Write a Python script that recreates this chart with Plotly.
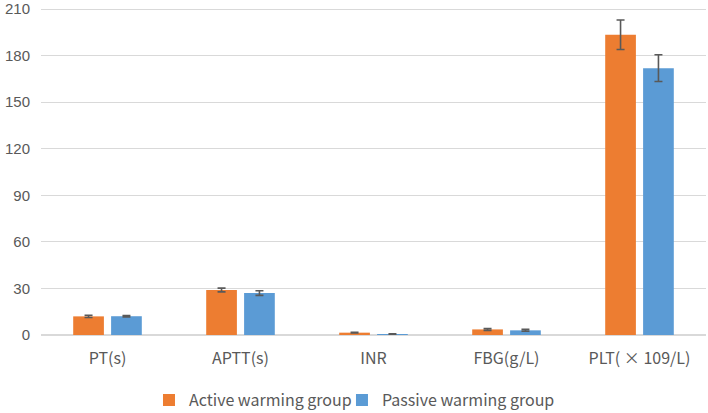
import plotly.graph_objects as go

categories = ["PT(s)", "APTT(s)", "INR", "FBG(g/L)", "PLT( × 109/L)"]
active_vals = [12.0, 29.0, 1.5, 3.6, 193.4]
active_err = [0.7, 1.2, 0.2, 0.6, 9.5]
passive_vals = [12.1, 27.0, 0.6, 3.0, 171.9]
passive_err = [0.5, 1.5, 0.1, 0.6, 8.6]
y_ticks = [0, 30, 60, 90, 120, 150, 180, 210]

FONT = "Noto Sans CJK KR, Noto Sans, sans-serif"
TICKFONT = "Liberation Sans, Arial, sans-serif"
TXT = "#595959"

fig = go.Figure()
fig.add_trace(go.Bar(
    name="Active warming group", x=categories, y=active_vals,
    marker=dict(color="#ED7D31", line=dict(width=0)),
    error_y=dict(type="data", array=active_err, visible=True,
                 color="#595959", thickness=1.6, width=4),
    legend="legend",
))
fig.add_trace(go.Bar(
    name="Passive warming group", x=categories, y=passive_vals,
    marker=dict(color="#5B9BD5", line=dict(width=0)),
    error_y=dict(type="data", array=passive_err, visible=True,
                 color="#595959", thickness=1.6, width=4),
    legend="legend2",
))

leg_common = dict(orientation="h", xanchor="left", yref="container", y=0.031,
                  yanchor="middle", font=dict(family=FONT, size=16, color=TXT),
                  itemwidth=30, bgcolor="rgba(0,0,0,0)")

fig.update_layout(
    width=708, height=413,
    margin=dict(l=41, r=2, t=7, b=78),
    paper_bgcolor="white", plot_bgcolor="white",
    barmode="group", bargap=0.43, bargroupgap=0.19,
    font=dict(family=FONT, size=16, color=TXT),
    showlegend=True,
    legend=dict(x=0.1624, **leg_common),
    legend2=dict(x=0.4526, **leg_common),
)
fig.update_xaxes(showgrid=False, showline=False, ticks="", automargin=False,
                 tickfont=dict(size=16, color=TXT), ticklabelstandoff=12)
fig.update_yaxes(range=[0, 211.3], tickvals=y_ticks, showgrid=True, gridcolor="#D9D9D9",
                 gridwidth=1, zeroline=True, zerolinecolor="#D9D9D9", zerolinewidth=1.5,
                 showline=False, ticks="", automargin=False, ticklabeloverflow="allow",
                 tickfont=dict(family=TICKFONT, size=15, color=TXT), ticklabelstandoff=10)

fig.write_html("out.html", config={"displayModeBar": False},
               post_script="document.body.style.margin='0';")
